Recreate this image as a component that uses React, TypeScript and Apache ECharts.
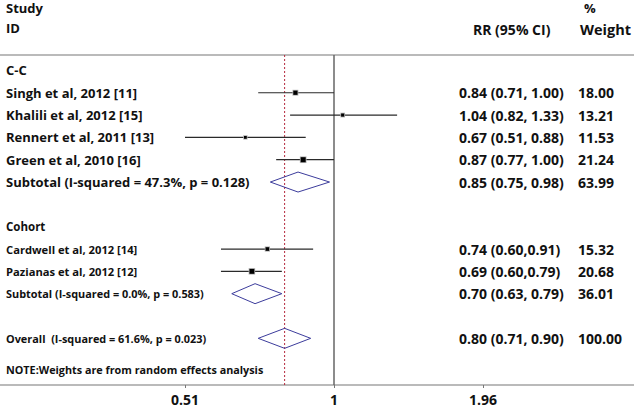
import React, { useEffect, useRef } from "react";
import * as echarts from "echarts";

// ---- data ----
const groupLabels = ["C-C", "Cohort"];
const groupRows = [0, 7];

const studyLabels = [
  "Singh et al, 2012 [11]",
  "Khalili et al, 2012 [15]",
  "Rennert et al, 2011 [13]",
  "Green et al, 2010 [16]",
  "Cardwell et al, 2012 [14]",
  "Pazianas et al, 2012 [12]",
];
const studyRows = [1, 2, 3, 4, 8, 9];
const studyRR = [0.84, 1.04, 0.67, 0.87, 0.74, 0.69];
const studyLo = [0.71, 0.82, 0.51, 0.77, 0.6, 0.6];
const studyHi = [1.0, 1.33, 0.88, 1.0, 0.91, 0.79];
const studyCI = [
  "0.84 (0.71, 1.00)",
  "1.04 (0.82, 1.33)",
  "0.67 (0.51, 0.88)",
  "0.87 (0.77, 1.00)",
  "0.74 (0.60,0.91)",
  "0.69 (0.60,0.79)",
];
const studyWeight = [18.0, 13.21, 11.53, 21.24, 15.32, 20.68];

const pooledLabels = [
  "Subtotal (I-squared = 47.3%, p = 0.128)",
  "Subtotal (I-squared = 0.0%, p = 0.583)",
  "Overall  (I-squared = 61.6%, p = 0.023)",
];
const pooledRows = [5, 10, 12];
const pooledRR = [0.85, 0.7, 0.8];
const pooledLo = [0.75, 0.63, 0.71];
const pooledHi = [0.98, 0.79, 0.9];
const pooledCI = ["0.85 (0.75, 0.98)", "0.70 (0.63, 0.79)", "0.80 (0.71, 0.90)"];
const pooledWeight = ["63.99", "36.01", "100.00"];

const noteLabel = "NOTE:Weights are from random effects analysis";
const noteRow = 13.4;

const tickValues = [0.51, 1, 1.96];
const tickLabels = ["0.51", "1", "1.96"];

// ---- layout constants ----
const FONT = "'Open Sans', Lato, sans-serif";
const TEXT = "#111";
const LABEL_X = 6;
const CI_X = 459;
const W_X = 578;
const NUM_SIZE = 14;
const Y_MIN = -0.69;
const Y_MAX = 14.09;

export default function App() {
  const ref = useRef<HTMLDivElement>(null);

  useEffect(() => {
    if (!ref.current) return;
    const chart = echarts.init(ref.current, undefined, { renderer: "svg" });

    const xMin = Math.log(tickValues[0]);
    const step = -xMin;
    const overall = Math.log(pooledRR[2]);

    const txt = (text: string, x: number, y: number, weight = "bold", size = 13, align = "left") => ({
      type: "text",
      style: {
        text,
        x,
        y,
        fill: TEXT,
        font: `${weight} ${size}px ${FONT}`,
        align,
        verticalAlign: "middle",
      },
    });

    const option: any = {
      animation: false,
      grid: { left: 185, width: 298, top: 55, bottom: 24 },
      xAxis: {
        type: "value",
        min: xMin,
        max: step,
        interval: step,
        splitLine: { show: false },
        axisLine: { show: false, onZero: false },
        axisTick: { show: true, length: 3, lineStyle: { color: "#777" } },
        axisLabel: {
          margin: 7,
          color: TEXT,
          fontFamily: FONT,
          fontWeight: "bold",
          fontSize: 14,
          formatter: (_v: number, i: number) => tickLabels[i] ?? "",
        },
      },
      yAxis: {
        type: "value",
        inverse: true,
        min: Y_MIN,
        max: Y_MAX,
        show: false,
      },
      graphic: [
        { type: "line", shape: { x1: 0, y1: 55, x2: 634, y2: 55 }, style: { stroke: "#777", lineWidth: 1.2 } },
        { type: "line", shape: { x1: 0, y1: 385, x2: 634, y2: 385 }, style: { stroke: "#777", lineWidth: 1.2 } },
        txt("Study", LABEL_X, 8),
        txt("ID", LABEL_X, 28),
        txt("%", 584, 8, "bold", 13),
        txt("RR (95% CI)", 473, 29, "bold", NUM_SIZE),
        txt("Weight", 580, 29, "bold", 14.5),
      ],
      series: [
        {
          type: "line",
          data: [
            [0, Y_MIN],
            [0, Y_MAX],
          ],
          symbol: "none",
          lineStyle: { color: "#666", width: 1.5 },
          silent: true,
          z: 1,
        },
        {
          type: "line",
          data: [
            [overall, Y_MIN],
            [overall, Y_MAX],
          ],
          symbol: "none",
          lineStyle: { color: "#b4283c", width: 1, type: [2, 2] },
          silent: true,
          z: 1,
        },
        {
          type: "custom",
          clip: false,
          data: groupRows.map((r, i) => [0, r, i]),
          renderItem: (params: any, api: any) => {
            const y = api.coord([0, api.value(1)])[1];
            const i = params.dataIndex;
            return txt(groupLabels[i], LABEL_X, y, "bold", i === 0 ? 13 : 11.5);
          },
          z: 5,
        },
        {
          type: "custom",
          clip: false,
          data: [[0, noteRow]],
          renderItem: (_p: any, api: any) => {
            const y = api.coord([0, api.value(1)])[1];
            return txt(noteLabel, LABEL_X, y, "bold", 10.8);
          },
          z: 5,
        },
        {
          type: "custom",
          clip: false,
          data: studyRows.map((r, i) => [Math.log(studyRR[i]), r, studyLo[i], studyHi[i], studyWeight[i]]),
          renderItem: (params: any, api: any) => {
            const i = params.dataIndex;
            const row = api.value(1);
            const c = api.coord([api.value(0), row]);
            const l = api.coord([Math.log(api.value(2)), row]);
            const h = api.coord([Math.log(api.value(3)), row]);
            const w = api.value(4);
            const s = Math.max(2.8, w / 4.2);
            const halo = s + 1.6;
            const cohort = row > 6;
            return {
              type: "group",
              children: [
                {
                  type: "line",
                  shape: { x1: l[0], y1: c[1], x2: h[0], y2: c[1] },
                  style: { stroke: "#2a2a2a", lineWidth: 1.2 },
                },
                {
                  type: "rect",
                  shape: { x: c[0] - halo / 2, y: c[1] - halo / 2, width: halo, height: halo },
                  style: { fill: "#b5b5b5" },
                },
                {
                  type: "rect",
                  shape: { x: c[0] - s / 2, y: c[1] - s / 2, width: s, height: s },
                  style: { fill: "#000" },
                },
                txt(studyLabels[i], LABEL_X, c[1], "bold", cohort ? 11.2 : 13),
                txt(studyCI[i], CI_X, c[1], "bold", NUM_SIZE),
                txt(studyWeight[i].toFixed(2), W_X, c[1], "bold", NUM_SIZE),
              ],
            };
          },
          z: 5,
        },
        {
          type: "custom",
          clip: false,
          data: pooledRows.map((r, i) => [Math.log(pooledRR[i]), r, pooledLo[i], pooledHi[i]]),
          renderItem: (params: any, api: any) => {
            const i = params.dataIndex;
            const row = api.value(1);
            const c = api.coord([api.value(0), row]);
            const l = api.coord([Math.log(api.value(2)), row]);
            const h = api.coord([Math.log(api.value(3)), row]);
            const dh = 10;
            const sizes = [13, 10.9, 10.9];
            return {
              type: "group",
              children: [
                {
                  type: "polygon",
                  shape: {
                    points: [
                      [l[0], c[1]],
                      [c[0], c[1] - dh],
                      [h[0], c[1]],
                      [c[0], c[1] + dh],
                    ],
                  },
                  style: { fill: "none", stroke: "#3c3c9c", lineWidth: 1 },
                },
                txt(pooledLabels[i], LABEL_X, c[1], "bold", sizes[i]),
                txt(pooledCI[i], CI_X, c[1], "bold", NUM_SIZE),
                txt(pooledWeight[i], W_X, c[1], "bold", NUM_SIZE),
              ],
            };
          },
          z: 5,
        },
      ],
    };

    chart.setOption(option);
    return () => chart.dispose();
  }, []);

  return <div ref={ref} style={{ width: 634, height: 409, position: "absolute", left: 0, top: 0 }} />;
}
